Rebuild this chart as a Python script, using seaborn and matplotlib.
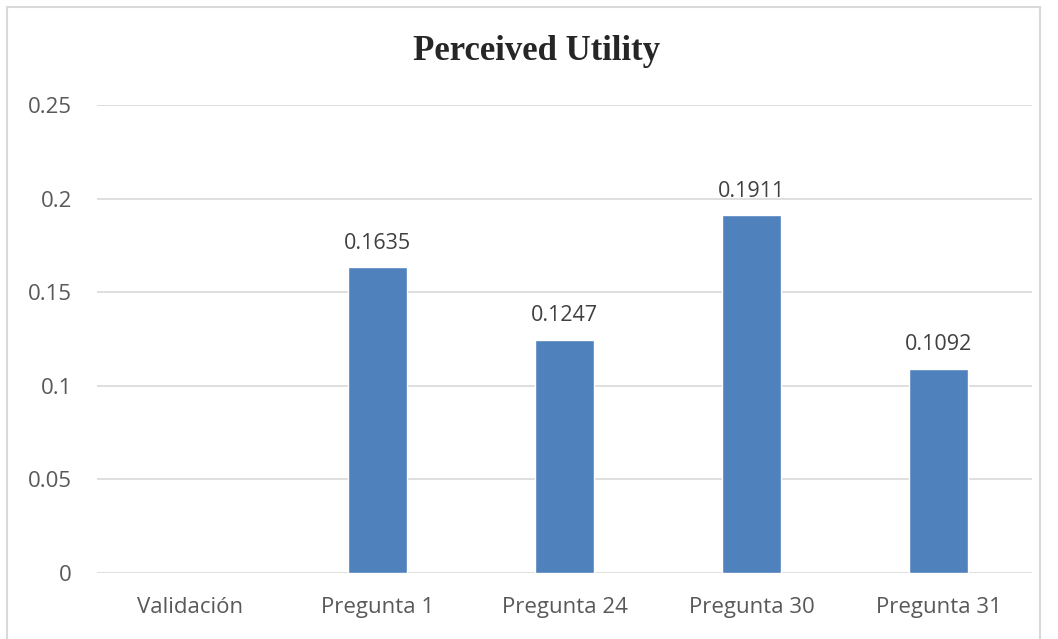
import numpy as np
import pandas as pd
import seaborn as sb
import matplotlib.pyplot as plt
from matplotlib.patches import Rectangle

categories = ['Validación', 'Pregunta 1', 'Pregunta 24', 'Pregunta 30', 'Pregunta 31']
values = [np.nan, 0.1635, 0.1247, 0.1911, 0.1092]
yticks = [0, 0.05, 0.1, 0.15, 0.2, 0.25]
ytick_labels = ['0', '0.05', '0.1', '0.15', '0.2', '0.25']

df = pd.DataFrame({'cat': categories, 'val': values})

sb.set_style('white')
plt.rcParams['font.family'] = ['Open Sans', 'DejaVu Sans']

fig = plt.figure(figsize=(10.58, 6.39), dpi=100)
ax = fig.add_axes([97 / 1058, 1 - 573 / 639, 935 / 1058, 468 / 639])

sb.barplot(data=df, x='cat', y='val', color='#4F81BD', width=0.32,
           saturation=1, ax=ax, zorder=3)

for i, v in enumerate(values):
    if not np.isnan(v):
        ax.text(i, v + 0.007, f'{v:.4f}', ha='center', va='bottom',
                fontsize=15.5, color='#404040')

ax.set_ylim(0, 0.25)
ax.set_yticks(yticks)
ax.set_yticklabels(ytick_labels)
ax.yaxis.grid(True, color='#D9D9D9', linewidth=1.2, zorder=0)
ax.set_axisbelow(True)
for s in ax.spines.values():
    s.set_visible(False)
ax.tick_params(axis='both', length=0, labelsize=16, labelcolor='#595959')
ax.tick_params(axis='y', pad=18)
ax.tick_params(axis='x', pad=17)
ax.set_xlabel('')
ax.set_ylabel('')

fig.text(537 / 1058, 1 - 52 / 639, 'Perceived Utility', ha='center', va='center',
         fontsize=25, fontweight='bold', family=['Liberation Serif', 'DejaVu Serif'])

fig.patches.append(Rectangle((7 / 1058, -0.05), 1033 / 1058, 1 - 7 / 639 + 0.05,
                             transform=fig.transFigure, fill=False,
                             edgecolor='#D9D9D9', linewidth=1.5))

plt.savefig('out.png', dpi=100)
